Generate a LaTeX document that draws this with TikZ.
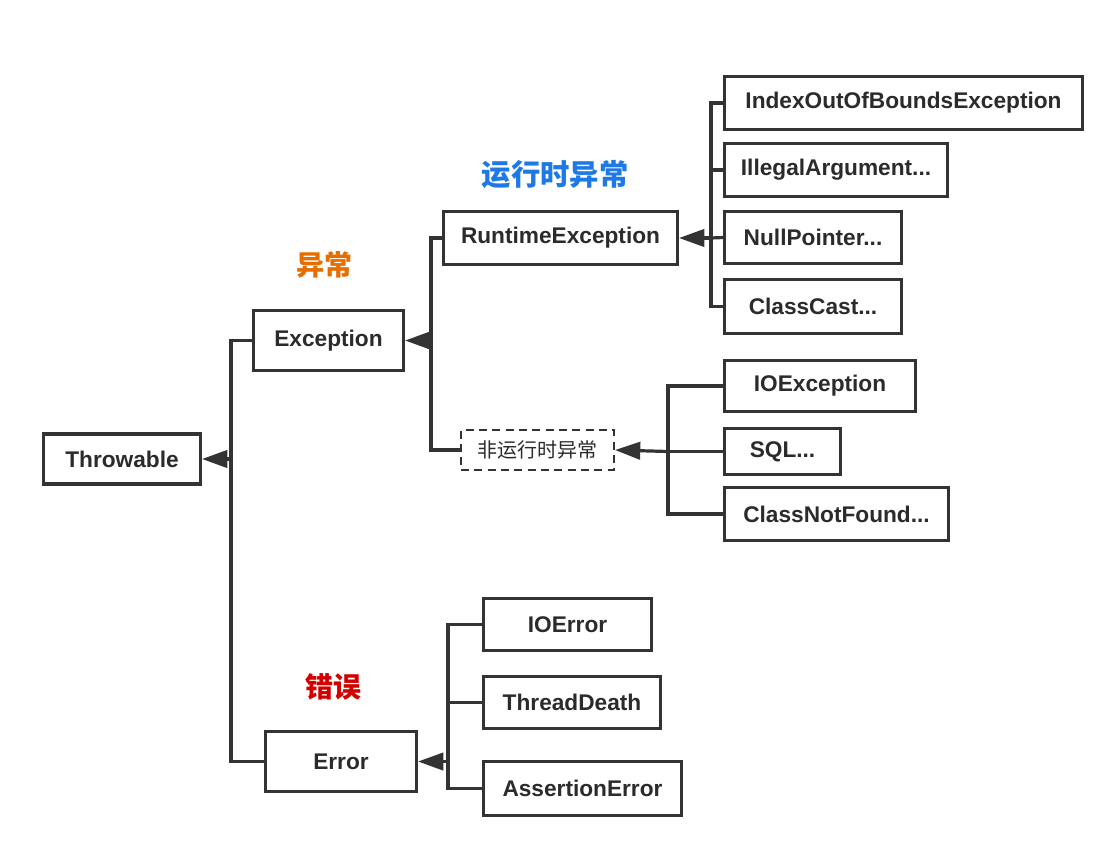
\documentclass[tikz,border=0pt]{standalone}
\usepackage{fontspec}
\setmainfont{Liberation Sans}
\newfontfamily\cjk{Noto Sans CJK SC}
\usetikzlibrary{arrows.meta}
\definecolor{lc}{HTML}{333333}
\definecolor{tc}{HTML}{2B2B2B}
\definecolor{lblue}{HTML}{1E78E6}
\definecolor{lorange}{HTML}{E66E00}
\definecolor{lred}{HTML}{D40000}
\begin{document}
\begin{tikzpicture}[x=0.75pt,y=-0.75pt,
  bx/.style 2 args={draw=lc, line width=2.3pt, fill=white, inner sep=0pt,
    minimum width=#1*0.75pt, minimum height=#2*0.75pt,
    font=\bfseries\fontsize{17}{20}\selectfont, text=tc},
  dbx/.style 2 args={draw=lc, line width=1.4pt, dash pattern=on 6pt off 4pt, fill=white, inner sep=0pt,
    minimum width=#1*0.75pt, minimum height=#2*0.75pt,
    font=\cjk\fontsize{15}{18}\selectfont, text=tc},
  conn/.style={draw=lc, line width=2.4pt},
  arr/.style={draw=lc, line width=2.4pt, -{Triangle[length=19pt,width=13pt]}},
  lbl/.style={font=\cjk\bfseries\fontsize{#1}{#1}\selectfont}
]
\useasboundingbox (0,0) rectangle (1112,864);
% nodes
\node[bx={157}{50}] (thr) at (122,459) {Throwable};
\node[bx={150}{60}] (exc) at (328.5,340.5) {Exception};
\node[bx={151}{60}] (err) at (341,761.5) {Error};
\node[bx={234}{53}] (rte) at (560.5,238) {RuntimeException};
\node[dbx={153}{40}] (nre) at (537.5,450) {非运行时异常};
\node[bx={358}{53}] (idx) at (903.5,103) {IndexOutOfBoundsException};
\node[bx={223}{53}] (ill) at (836,170) {IllegalArgument...};
\node[bx={177}{52}] (npe) at (813,237.5) {NullPointer...};
\node[bx={177}{54}] (cce) at (813,306.5) {ClassCast...};
\node[bx={191}{51}] (ioe) at (820,386) {IOException};
\node[bx={116}{46}] (sql) at (782.5,451.5) {SQL...};
\node[bx={224}{53}] (cnf) at (836.5,514) {ClassNotFound...};
\node[bx={168}{52}] (ior) at (567.5,624.5) {IOError};
\node[bx={177}{52}] (thd) at (572,702.5) {ThreadDeath};
\node[bx={198}{54}] (ase) at (582.5,788.5) {AssertionError};
% labels
\node[lbl=22, text=lblue] (l1) at (555,175) {运行时异常};
\node[lbl=21, text=lorange] (l2) at (324,265) {异常};
\node[lbl=21, text=lred] (l3) at (333,687) {错误};
% junctions
\coordinate (j0) at (231,459);
\coordinate (j1) at (431,340.5);
\coordinate (j2) at (711,238);
\coordinate (j3) at (668,451.5);
\coordinate (j4) at (448,761.5);
% connectors
\draw[conn] (exc.west) -| (j0) |- (err.west);
\draw[arr] (j0) -- (thr.east);
\draw[conn] (rte.west) -| (j1) |- (nre.west);
\draw[arr] (j1) -- (exc.east);
\draw[conn] (idx.west) -| (j2) |- (cce.west);
\draw[conn] (ill.west) -- (ill.west -| j2);
\draw[conn] (npe.west) -- (j2);
\draw[arr] (j2) -- (rte.east);
\draw[conn] (ioe.west) -| (j3) |- (cnf.west);
\draw[conn] (sql.west) -- (j3);
\draw[arr] (j3) -- (nre.east);
\draw[conn] (ior.west) -| (j4) |- (ase.west);
\draw[conn] (thd.west) -- (thd.west -| j4);
\draw[arr] (j4) -- (err.east);
\end{tikzpicture}
\end{document}
